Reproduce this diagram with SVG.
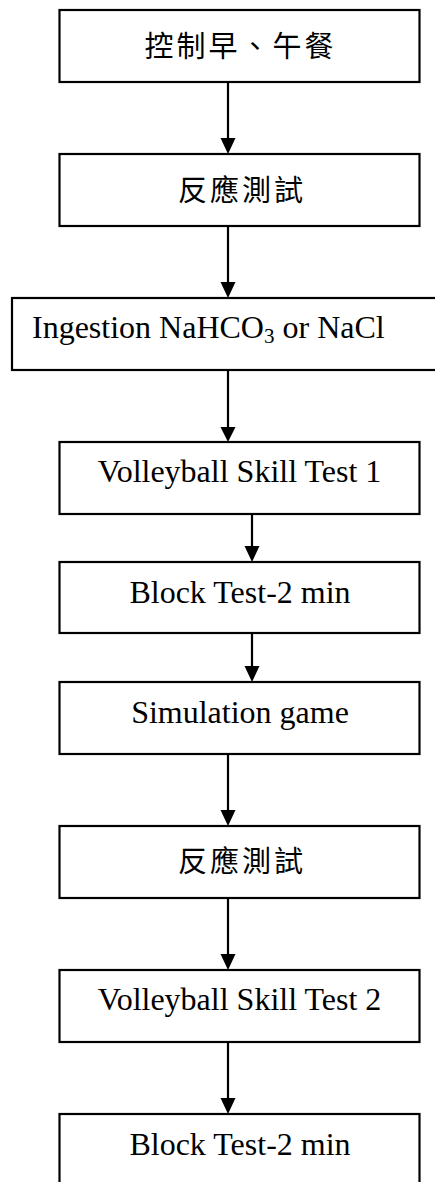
<svg xmlns="http://www.w3.org/2000/svg" width="435" height="1182" viewBox="0 0 435 1182">
<style>
.box{fill:#fff;stroke:#000;stroke-width:2.2}
.t{font-family:"Liberation Serif","Times New Roman",serif;font-size:32px;fill:#000;text-anchor:middle}
.cjk{font-family:"Noto Sans CJK TC","Noto Sans CJK SC",sans-serif;font-size:29px;fill:#000;text-anchor:middle;letter-spacing:3px;dominant-baseline:central}
.ln{stroke:#000;stroke-width:2.2;fill:none}
.ah{fill:#000}
</style>
<rect width="435" height="1182" fill="#fff"/>
<g id="connectors">
<line class="ln" x1="228" y1="82" x2="228" y2="139"/><polygon class="ah" points="220.5,138 235.5,138 228,154"/>
<line class="ln" x1="228" y1="226" x2="228" y2="283"/><polygon class="ah" points="220.5,282 235.5,282 228,298"/>
<line class="ln" x1="228" y1="370" x2="228" y2="428"/><polygon class="ah" points="220.5,427 235.5,427 228,442"/>
<line class="ln" x1="252" y1="514" x2="252" y2="547"/><polygon class="ah" points="244.5,546 259.5,546 252,562"/>
<line class="ln" x1="252" y1="633" x2="252" y2="667"/><polygon class="ah" points="244.5,666 259.5,666 252,682"/>
<line class="ln" x1="228" y1="754" x2="228" y2="811"/><polygon class="ah" points="220.5,810 235.5,810 228,826"/>
<line class="ln" x1="228" y1="898" x2="228" y2="955"/><polygon class="ah" points="220.5,954 235.5,954 228,970"/>
<line class="ln" x1="228" y1="1042" x2="228" y2="1099"/><polygon class="ah" points="220.5,1098 235.5,1098 228,1114"/>
</g>
<g id="n1"><rect class="box" x="59.5" y="10" width="360" height="72"/><text class="cjk" x="240.5" y="43.5">控制早、午餐</text></g>
<g id="n2"><rect class="box" x="59.5" y="154" width="360" height="72"/><text class="cjk" x="242" y="188">反應測試</text></g>
<g id="n3"><rect class="box" x="12" y="298" width="440" height="72"/><text class="t" x="32" y="338" style="text-anchor:start">Ingestion NaHCO<tspan font-size="21" dy="5">3</tspan><tspan dy="-5"> or NaCl</tspan></text></g>
<g id="n4"><rect class="box" x="59.5" y="442" width="360" height="72"/><text class="t" x="239.5" y="482">Volleyball Skill Test 1</text></g>
<g id="n5"><rect class="box" x="59.5" y="562" width="360" height="71"/><text class="t" x="240" y="603">Block Test-2 min</text></g>
<g id="n6"><rect class="box" x="59.5" y="682" width="360" height="72"/><text class="t" x="240" y="723">Simulation game</text></g>
<g id="n7"><rect class="box" x="59.5" y="826" width="360" height="72"/><text class="cjk" x="242" y="858.5">反應測試</text></g>
<g id="n8"><rect class="box" x="59.5" y="970" width="360" height="72"/><text class="t" x="239.5" y="1010">Volleyball Skill Test 2</text></g>
<g id="n9"><rect class="box" x="59.5" y="1114" width="360" height="80"/><text class="t" x="240" y="1155">Block Test-2 min</text></g>
</svg>
